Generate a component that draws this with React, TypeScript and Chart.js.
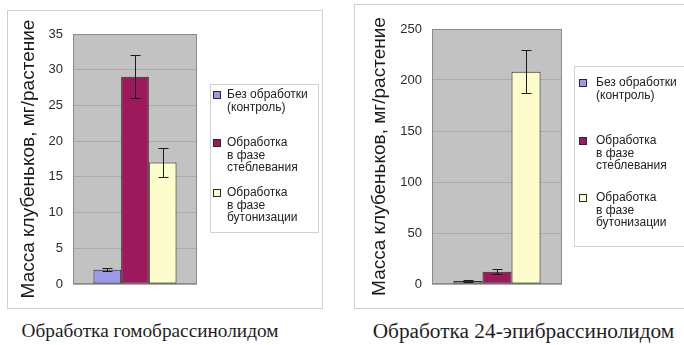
import React, { useEffect, useRef } from "react";
import { Chart, registerables } from "chart.js";

Chart.register(...registerables);

// ---------- data ----------
const seriesLabels = [
  "Без обработки\n(контроль)",
  "Обработка\nв фазе\nстеблевания",
  "Обработка\nв фазе\nбутонизации",
];
const seriesColors = ["#9b99ec", "#9c1a5c", "#fdfccb"];
const categories = [""];

const homoValues = [2, 29, 17];
const homoErrors = [0.2, 3, 2];
const homoYMax = 35;
const homoYStep = 5;

const epiValues = [3, 12, 208];
const epiErrors = [1, 2.5, 21];
const epiYMax = 250;
const epiYStep = 50;

const yTitle = "Масса клубеньков, мг/растение";
const captions = ["Обработка гомобрассинолидом", "Обработка 24-эпибрассинолидом"];

const SANS = '"Liberation Sans", Arial, sans-serif';
const SERIF = '"Liberation Serif", "Times New Roman", serif';

// ---------- plugins ----------
const plotBgPlugin = {
  id: "plotBg",
  beforeDraw(chart: any) {
    const { ctx, chartArea: a } = chart;
    ctx.save();
    ctx.fillStyle = "#c2c2c2";
    ctx.fillRect(a.left, a.top, a.right - a.left, a.bottom - a.top);
    ctx.restore();
  },
  beforeDatasetsDraw(chart: any) {
    const { ctx, chartArea: a } = chart;
    ctx.save();
    ctx.strokeStyle = "#8a8a8a";
    ctx.lineWidth = 1;
    ctx.strokeRect(a.left + 0.5, a.top + 0.5, a.right - a.left - 1, a.bottom - a.top - 1);
    ctx.restore();
  },
};

const errorBarPlugin = {
  id: "errorBars",
  afterDatasetsDraw(chart: any, _args: any, opts: any) {
    const { ctx } = chart;
    const yScale = chart.scales.y;
    ctx.save();
    ctx.strokeStyle = "#1a1a1a";
    ctx.lineWidth = 1;
    chart.data.datasets.forEach((ds: any, i: number) => {
      const meta = chart.getDatasetMeta(i);
      meta.data.forEach((el: any, j: number) => {
        const v = ds.data[j];
        const e = opts.errors[i];
        const x = Math.round(el.x) + 0.5;
        const yTop = Math.round(yScale.getPixelForValue(v + e)) + 0.5;
        const yBot = Math.round(yScale.getPixelForValue(v - e)) + 0.5;
        ctx.beginPath();
        ctx.moveTo(x, yTop);
        ctx.lineTo(x, yBot);
        ctx.moveTo(x - 5, yTop);
        ctx.lineTo(x + 5, yTop);
        ctx.moveTo(x - 5, yBot);
        ctx.lineTo(x + 5, yBot);
        ctx.stroke();
      });
    });
    ctx.restore();
  },
};

const boxLegendPlugin = {
  id: "boxLegend",
  afterDraw(chart: any, _args: any, opts: any) {
    const { ctx, chartArea } = chart;
    const x = Math.round(chartArea.right + opts.dx);
    const y = opts.top;
    ctx.save();
    ctx.fillStyle = "#ffffff";
    ctx.fillRect(x, y, opts.w, opts.h);
    ctx.strokeStyle = "#d2d2d2";
    ctx.lineWidth = 1;
    ctx.strokeRect(x + 0.5, y + 0.5, opts.w, opts.h);
    ctx.font = `12px ${SANS}`;
    ctx.textBaseline = "middle";
    ctx.textAlign = "left";
    chart.data.datasets.forEach((ds: any, i: number) => {
      const cy = y + opts.itemY[i];
      const sx = x + opts.sq;
      ctx.fillStyle = ds.backgroundColor;
      ctx.fillRect(sx, Math.round(cy) - 4, 8, 8);
      ctx.strokeStyle = "#2a2a2a";
      ctx.strokeRect(sx + 0.5, Math.round(cy) - 3.5, 7, 7);
      ctx.fillStyle = "#222";
      String(ds.label)
        .split("\n")
        .forEach((line: string, j: number) => {
          ctx.fillText(line, x + opts.tx, cy + j * opts.lh);
        });
    });
    ctx.restore();
  },
};

// ---------- panel ----------
type PanelProps = {
  values: number[];
  errors: number[];
  yMax: number;
  yStep: number;
  box: { left: number; top: number; w: number; h: number };
  padding: { left: number; top: number; right: number; bottom: number };
  axisWidth: number;
  titlePad: number;
  legend: { dx: number; top: number; w: number; h: number; itemY: number[]; sq: number; tx: number; lh: number };
};

function Panel(p: PanelProps) {
  const ref = useRef<HTMLCanvasElement | null>(null);
  useEffect(() => {
    if (!ref.current) return;
    const chart = new Chart(ref.current, {
      type: "bar",
      data: {
        labels: categories,
        datasets: seriesLabels.map((label, i) => ({
          label,
          data: [p.values[i]],
          backgroundColor: seriesColors[i],
          borderColor: "#2e2e22",
          borderWidth: 1,
          borderSkipped: false,
          categoryPercentage: 0.67,
          barPercentage: 1,
        })),
      },
      options: {
        responsive: false,
        animation: false,
        devicePixelRatio: 1,
        layout: { padding: p.padding },
        events: [],
        plugins: {
          legend: { display: false },
          tooltip: { enabled: false },
          title: { display: false },
          errorBars: { errors: p.errors },
          boxLegend: p.legend,
        } as any,
        scales: {
          x: { display: false },
          y: {
            min: 0,
            max: p.yMax,
            ticks: {
              stepSize: p.yStep,
              padding: 10,
              color: "#2b2b2b",
              font: { family: SANS, size: 13 },
            },
            grid: { color: "#aaaaaa", drawTicks: false },
            border: { display: false },
            title: {
              display: true,
              text: yTitle,
              color: "#1a1a1a",
              font: { family: SANS, size: 19 },
              padding: { top: p.titlePad, bottom: 0 },
            },
            afterFit(scale: any) {
              scale.width = p.axisWidth;
            },
          },
        },
      },
      plugins: [plotBgPlugin, errorBarPlugin, boxLegendPlugin],
    });
    return () => chart.destroy();
  }, []);
  return (
    <div
      style={{
        position: "absolute",
        left: p.box.left,
        top: p.box.top,
        width: p.box.w,
        height: p.box.h,
        border: "1px solid #d0d0d0",
        background: "#fff",
      }}
    >
      <canvas ref={ref} width={p.box.w} height={p.box.h} style={{ display: "block" }} />
    </div>
  );
}

export default function App() {
  const capStyle: React.CSSProperties = {
    position: "absolute",
    top: 321,
    width: 340,
    textAlign: "center",
    fontFamily: SERIF,
    lineHeight: "20px",
    color: "#1e1e1e",
    whiteSpace: "nowrap",
  };
  return (
    <div
      style={{
        position: "fixed",
        left: 0,
        top: 0,
        width: 684,
        height: 345,
        background: "#fff",
        overflow: "hidden",
      }}
    >
      <Panel
        values={homoValues}
        errors={homoErrors}
        yMax={homoYMax}
        yStep={homoYStep}
        box={{ left: 7, top: 10, w: 314, h: 297 }}
        padding={{ left: 0, top: 23, right: 125, bottom: 24 }}
        axisWidth={65}
        titlePad={9}
        legend={{ dx: 13, top: 73, w: 108, h: 148, itemY: [11, 59, 109], sq: 3, tx: 17, lh: 12.5 }}
      />
      <Panel
        values={epiValues}
        errors={epiErrors}
        yMax={epiYMax}
        yStep={epiYStep}
        box={{ left: 354, top: 4, w: 340, h: 303 }}
        padding={{ left: 0, top: 24, right: 133, bottom: 24 }}
        axisWidth={77}
        titlePad={13}
        legend={{ dx: 12, top: 61, w: 140, h: 180, itemY: [17, 75, 132], sq: 5, tx: 22, lh: 12.5 }}
      />
      <div style={{ ...capStyle, left: -20, fontSize: 19.3 }}>{captions[0]}</div>
      <div style={{ ...capStyle, left: 353.5, fontSize: 21.3 }}>{captions[1]}</div>
    </div>
  );
}
